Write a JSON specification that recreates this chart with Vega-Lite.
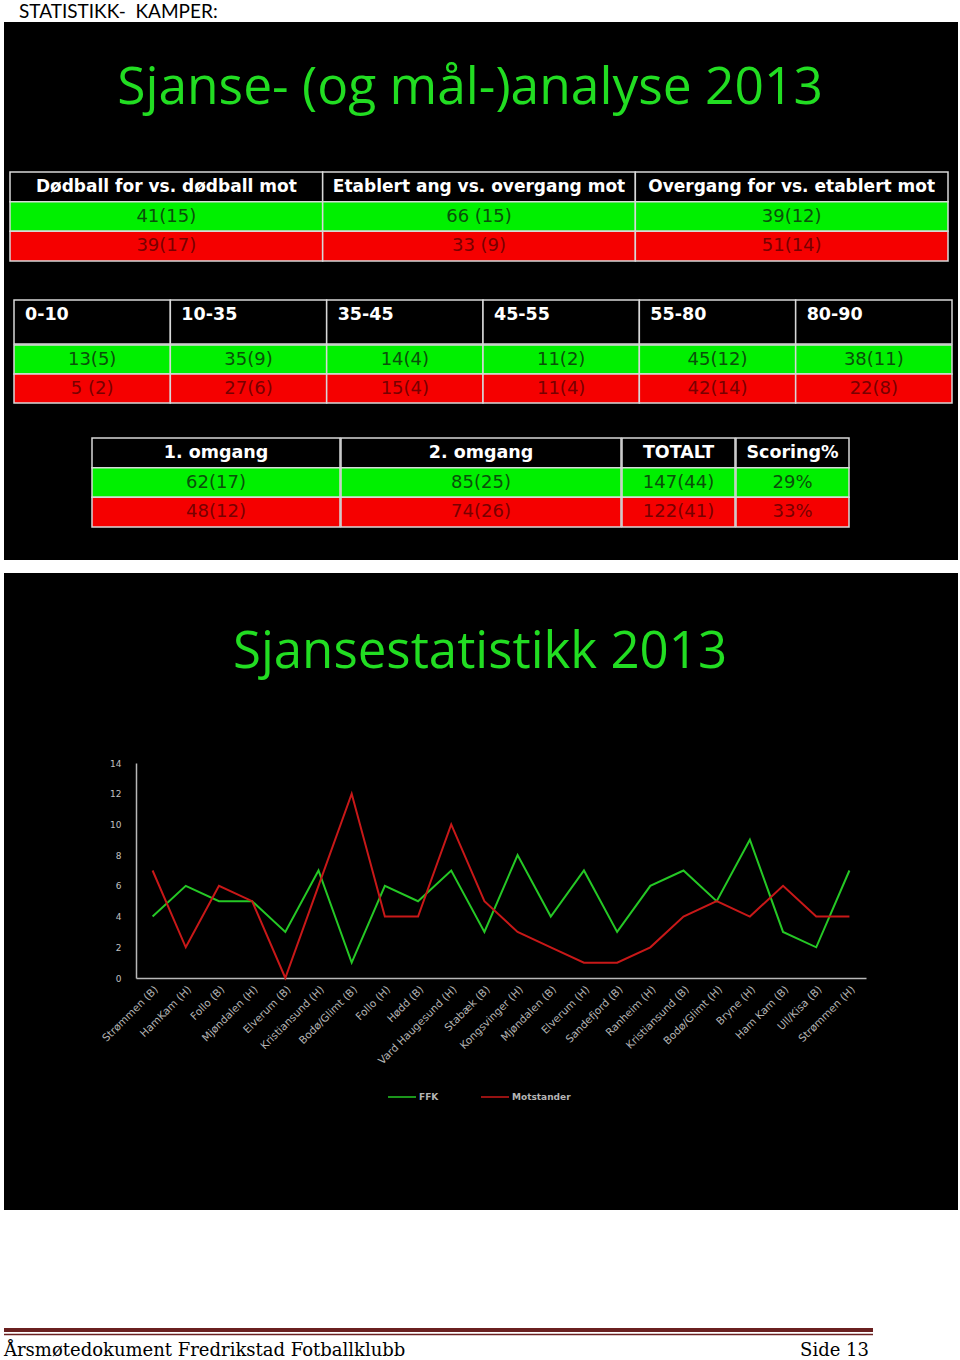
{
  "$schema": "https://vega.github.io/schema/vega-lite/v6.json",
  "background": "white",
  "padding": {"left": 2, "top": 3, "right": 0, "bottom": 0},
  "title": {"text": "STATISTIKK-\u00a0 KAMPER:", "anchor": "start", "frame": "group", "font": "Lato", "fontSize": 19, "fontWeight": "normal", "color": "#000000", "offset": 0, "dx": 15},
  "spacing": 118,
  "resolve": {"scale": {"x": "independent", "y": "independent", "color": "independent", "fill": "independent", "strokeWidth": "independent"}},
  "config": {"view": {"stroke": null}},
  "vconcat": [
    {
      "spacing": 13,
      "resolve": {"scale": {"x": "independent", "y": "independent", "color": "independent", "fill": "independent"}},
      "vconcat": [
        {
          "width": 954,
          "height": 538,
          "view": {"fill": "#000000", "stroke": null},
          "title": {"text": "Sjanse- (og mål-)analyse 2013", "font": "Open Sans", "fontSize": 51.5, "fontWeight": "normal", "color": "#22dd22", "anchor": "middle", "baseline": "alphabetic", "offset": -133, "dx": -11},
          "resolve": {"scale": {"x": "independent", "y": "independent"}},
          "layer": [
            {
              "data": {"values": [
                {"kol": "a1", "rad": "h", "tekst": "Dødball for vs. dødball mot"},
                {"kol": "a2", "rad": "h", "tekst": "Etablert ang vs. overgang mot"},
                {"kol": "a3", "rad": "h", "tekst": "Overgang for vs. etablert mot"},
                {"kol": "a1", "rad": "g", "tekst": "41(15)"},
                {"kol": "a2", "rad": "g", "tekst": "66 (15)"},
                {"kol": "a3", "rad": "g", "tekst": "39(12)"},
                {"kol": "a1", "rad": "r", "tekst": "39(17)"},
                {"kol": "a2", "rad": "r", "tekst": "33 (9)"},
                {"kol": "a3", "rad": "r", "tekst": "51(14)"}
              ]},
              "encoding": {
                "x": {"field": "kol", "type": "nominal", "scale": {"type": "band", "domain": ["a1", "a2", "a3"], "range": [6, 944], "paddingInner": 0, "paddingOuter": 0}, "axis": null},
                "y": {"field": "rad", "type": "nominal", "scale": {"type": "band", "domain": ["h", "g", "r"], "range": [150, 239], "paddingInner": 0, "paddingOuter": 0}, "axis": null}
              },
              "layer": [
                {"mark": {"type": "rect", "stroke": "#d8d8d8", "strokeWidth": 1.5}, "encoding": {"fill": {"field": "rad", "type": "nominal", "scale": {"domain": ["h", "g", "r"], "range": ["#000000", "#00f000", "#f50000"]}, "legend": null}}},
                {"transform": [{"filter": "datum.rad == 'h'"}], "mark": {"type": "text", "font": "DejaVu Sans", "fontWeight": "bold", "fontSize": 17, "color": "#ffffff", "baseline": "middle"}, "encoding": {"text": {"field": "tekst"}}},
                {"transform": [{"filter": "datum.rad != 'h'"}], "mark": {"type": "text", "font": "DejaVu Sans", "fontSize": 18, "baseline": "middle"}, "encoding": {"text": {"field": "tekst"}, "color": {"field": "rad", "type": "nominal", "scale": {"domain": ["g", "r"], "range": ["#0a500a", "#780000"]}, "legend": null}}}
              ]
            },
            {
              "data": {"values": [
                {"kol": "b1", "rad": "h", "tekst": "0-10"},
                {"kol": "b2", "rad": "h", "tekst": "10-35"},
                {"kol": "b3", "rad": "h", "tekst": "35-45"},
                {"kol": "b4", "rad": "h", "tekst": "45-55"},
                {"kol": "b5", "rad": "h", "tekst": "55-80"},
                {"kol": "b6", "rad": "h", "tekst": "80-90"},
                {"kol": "b1", "rad": "g", "tekst": "13(5)"},
                {"kol": "b2", "rad": "g", "tekst": "35(9)"},
                {"kol": "b3", "rad": "g", "tekst": "14(4)"},
                {"kol": "b4", "rad": "g", "tekst": "11(2)"},
                {"kol": "b5", "rad": "g", "tekst": "45(12)"},
                {"kol": "b6", "rad": "g", "tekst": "38(11)"},
                {"kol": "b1", "rad": "r", "tekst": "5 (2)"},
                {"kol": "b2", "rad": "r", "tekst": "27(6)"},
                {"kol": "b3", "rad": "r", "tekst": "15(4)"},
                {"kol": "b4", "rad": "r", "tekst": "11(4)"},
                {"kol": "b5", "rad": "r", "tekst": "42(14)"},
                {"kol": "b6", "rad": "r", "tekst": "22(8)"}
              ]},
              "encoding": {
                "x": {"field": "kol", "type": "nominal", "scale": {"type": "band", "domain": ["b1", "b2", "b3", "b4", "b5", "b6"], "range": [10, 948], "paddingInner": 0, "paddingOuter": 0}, "axis": null}
              },
              "resolve": {"scale": {"y": "independent"}},
              "layer": [
                {"transform": [{"filter": "datum.rad == 'h'"}], "mark": {"type": "rect", "stroke": "#d8d8d8", "strokeWidth": 1.5}, "encoding": {"y": {"field": "rad", "type": "nominal", "scale": {"type": "band", "domain": ["h"], "range": [278, 322], "paddingInner": 0, "paddingOuter": 0}, "axis": null}, "fill": {"field": "rad", "type": "nominal", "scale": {"domain": ["h", "g", "r"], "range": ["#000000", "#00f000", "#f50000"]}, "legend": null}}},
                {"transform": [{"filter": "datum.rad != 'h'"}], "mark": {"type": "rect", "stroke": "#d8d8d8", "strokeWidth": 1.5}, "encoding": {"y": {"field": "rad", "type": "nominal", "scale": {"type": "band", "domain": ["g", "r"], "range": [323, 381], "paddingInner": 0, "paddingOuter": 0}, "axis": null}, "fill": {"field": "rad", "type": "nominal", "scale": {"domain": ["h", "g", "r"], "range": ["#000000", "#00f000", "#f50000"]}, "legend": null}}},
                {"transform": [{"filter": "datum.rad == 'h'"}], "mark": {"type": "text", "font": "DejaVu Sans", "fontWeight": "bold", "fontSize": 17.5, "color": "#ffffff", "align": "left", "baseline": "top", "dx": 11, "dy": 6}, "encoding": {"x": {"field": "kol", "type": "nominal", "bandPosition": 0, "scale": {"type": "band", "domain": ["b1", "b2", "b3", "b4", "b5", "b6"], "range": [10, 948], "paddingInner": 0, "paddingOuter": 0}, "axis": null}, "y": {"field": "rad", "type": "nominal", "bandPosition": 0, "scale": {"type": "band", "domain": ["h"], "range": [278, 322], "paddingInner": 0, "paddingOuter": 0}, "axis": null}, "text": {"field": "tekst"}}},
                {"transform": [{"filter": "datum.rad != 'h'"}], "mark": {"type": "text", "font": "DejaVu Sans", "fontSize": 18, "baseline": "middle"}, "encoding": {"y": {"field": "rad", "type": "nominal", "scale": {"type": "band", "domain": ["g", "r"], "range": [323, 381], "paddingInner": 0, "paddingOuter": 0}, "axis": null}, "text": {"field": "tekst"}, "color": {"field": "rad", "type": "nominal", "scale": {"domain": ["g", "r"], "range": ["#0a500a", "#780000"]}, "legend": null}}}
              ]
            },
            {
              "data": {"values": [
                {"kol": "c1", "rad": "h", "tekst": "1. omgang"},
                {"kol": "c1", "rad": "g", "tekst": "62(17)"},
                {"kol": "c1", "rad": "r", "tekst": "48(12)"}
              ]},
              "encoding": {
                "x": {"field": "kol", "type": "nominal", "scale": {"type": "band", "domain": ["c1"], "range": [88, 336], "paddingInner": 0, "paddingOuter": 0}, "axis": null},
                "y": {"field": "rad", "type": "nominal", "scale": {"type": "band", "domain": ["h", "g", "r"], "range": [416, 505], "paddingInner": 0, "paddingOuter": 0}, "axis": null}
              },
              "layer": [
                {"mark": {"type": "rect", "stroke": "#d8d8d8", "strokeWidth": 1.5}, "encoding": {"fill": {"field": "rad", "type": "nominal", "scale": {"domain": ["h", "g", "r"], "range": ["#000000", "#00f000", "#f50000"]}, "legend": null}}},
                {"transform": [{"filter": "datum.rad == 'h'"}], "mark": {"type": "text", "font": "DejaVu Sans", "fontWeight": "bold", "fontSize": 17.5, "color": "#ffffff", "baseline": "middle"}, "encoding": {"text": {"field": "tekst"}}},
                {"transform": [{"filter": "datum.rad != 'h'"}], "mark": {"type": "text", "font": "DejaVu Sans", "fontSize": 18, "baseline": "middle"}, "encoding": {"text": {"field": "tekst"}, "color": {"field": "rad", "type": "nominal", "scale": {"domain": ["g", "r"], "range": ["#0a500a", "#780000"]}, "legend": null}}}
              ]
            },
            {
              "data": {"values": [
                {"kol": "c2", "rad": "h", "tekst": "2. omgang"},
                {"kol": "c2", "rad": "g", "tekst": "85(25)"},
                {"kol": "c2", "rad": "r", "tekst": "74(26)"}
              ]},
              "encoding": {
                "x": {"field": "kol", "type": "nominal", "scale": {"type": "band", "domain": ["c2"], "range": [337, 617], "paddingInner": 0, "paddingOuter": 0}, "axis": null},
                "y": {"field": "rad", "type": "nominal", "scale": {"type": "band", "domain": ["h", "g", "r"], "range": [416, 505], "paddingInner": 0, "paddingOuter": 0}, "axis": null}
              },
              "layer": [
                {"mark": {"type": "rect", "stroke": "#d8d8d8", "strokeWidth": 1.5}, "encoding": {"fill": {"field": "rad", "type": "nominal", "scale": {"domain": ["h", "g", "r"], "range": ["#000000", "#00f000", "#f50000"]}, "legend": null}}},
                {"transform": [{"filter": "datum.rad == 'h'"}], "mark": {"type": "text", "font": "DejaVu Sans", "fontWeight": "bold", "fontSize": 17.5, "color": "#ffffff", "baseline": "middle"}, "encoding": {"text": {"field": "tekst"}}},
                {"transform": [{"filter": "datum.rad != 'h'"}], "mark": {"type": "text", "font": "DejaVu Sans", "fontSize": 18, "baseline": "middle"}, "encoding": {"text": {"field": "tekst"}, "color": {"field": "rad", "type": "nominal", "scale": {"domain": ["g", "r"], "range": ["#0a500a", "#780000"]}, "legend": null}}}
              ]
            },
            {
              "data": {"values": [
                {"kol": "c3", "rad": "h", "tekst": "TOTALT"},
                {"kol": "c3", "rad": "g", "tekst": "147(44)"},
                {"kol": "c3", "rad": "r", "tekst": "122(41)"}
              ]},
              "encoding": {
                "x": {"field": "kol", "type": "nominal", "scale": {"type": "band", "domain": ["c3"], "range": [618, 731], "paddingInner": 0, "paddingOuter": 0}, "axis": null},
                "y": {"field": "rad", "type": "nominal", "scale": {"type": "band", "domain": ["h", "g", "r"], "range": [416, 505], "paddingInner": 0, "paddingOuter": 0}, "axis": null}
              },
              "layer": [
                {"mark": {"type": "rect", "stroke": "#d8d8d8", "strokeWidth": 1.5}, "encoding": {"fill": {"field": "rad", "type": "nominal", "scale": {"domain": ["h", "g", "r"], "range": ["#000000", "#00f000", "#f50000"]}, "legend": null}}},
                {"transform": [{"filter": "datum.rad == 'h'"}], "mark": {"type": "text", "font": "DejaVu Sans", "fontWeight": "bold", "fontSize": 17.5, "color": "#ffffff", "baseline": "middle"}, "encoding": {"text": {"field": "tekst"}}},
                {"transform": [{"filter": "datum.rad != 'h'"}], "mark": {"type": "text", "font": "DejaVu Sans", "fontSize": 18, "baseline": "middle"}, "encoding": {"text": {"field": "tekst"}, "color": {"field": "rad", "type": "nominal", "scale": {"domain": ["g", "r"], "range": ["#0a500a", "#780000"]}, "legend": null}}}
              ]
            },
            {
              "data": {"values": [
                {"kol": "c4", "rad": "h", "tekst": "Scoring%"},
                {"kol": "c4", "rad": "g", "tekst": "29%"},
                {"kol": "c4", "rad": "r", "tekst": "33%"}
              ]},
              "encoding": {
                "x": {"field": "kol", "type": "nominal", "scale": {"type": "band", "domain": ["c4"], "range": [732, 845], "paddingInner": 0, "paddingOuter": 0}, "axis": null},
                "y": {"field": "rad", "type": "nominal", "scale": {"type": "band", "domain": ["h", "g", "r"], "range": [416, 505], "paddingInner": 0, "paddingOuter": 0}, "axis": null}
              },
              "layer": [
                {"mark": {"type": "rect", "stroke": "#d8d8d8", "strokeWidth": 1.5}, "encoding": {"fill": {"field": "rad", "type": "nominal", "scale": {"domain": ["h", "g", "r"], "range": ["#000000", "#00f000", "#f50000"]}, "legend": null}}},
                {"transform": [{"filter": "datum.rad == 'h'"}], "mark": {"type": "text", "font": "DejaVu Sans", "fontWeight": "bold", "fontSize": 17.5, "color": "#ffffff", "baseline": "middle"}, "encoding": {"text": {"field": "tekst"}}},
                {"transform": [{"filter": "datum.rad != 'h'"}], "mark": {"type": "text", "font": "DejaVu Sans", "fontSize": 18, "baseline": "middle"}, "encoding": {"text": {"field": "tekst"}, "color": {"field": "rad", "type": "nominal", "scale": {"domain": ["g", "r"], "range": ["#0a500a", "#780000"]}, "legend": null}}}
              ]
            }
          ]
        },
        {
          "width": 954,
          "height": 637,
          "view": {"fill": "#000000", "stroke": null},
          "title": {"text": "Sjansestatistikk 2013", "font": "Open Sans", "fontSize": 51, "fontWeight": "normal", "color": "#22dd22", "anchor": "middle", "baseline": "alphabetic", "offset": -146, "dx": -1},
          "data": {"values": [
            {"kamp": "Strømmen (B)", "serie": "FFK", "sjanser": 4},
            {"kamp": "HamKam (H)", "serie": "FFK", "sjanser": 6},
            {"kamp": "Follo (B)", "serie": "FFK", "sjanser": 5},
            {"kamp": "Mjøndalen (H)", "serie": "FFK", "sjanser": 5},
            {"kamp": "Elverum (B)", "serie": "FFK", "sjanser": 3},
            {"kamp": "Kristiansund (H)", "serie": "FFK", "sjanser": 7},
            {"kamp": "Bodø/Glimt (B)", "serie": "FFK", "sjanser": 1},
            {"kamp": "Follo (H)", "serie": "FFK", "sjanser": 6},
            {"kamp": "Hødd (B)", "serie": "FFK", "sjanser": 5},
            {"kamp": "Vard Haugesund (H)", "serie": "FFK", "sjanser": 7},
            {"kamp": "Stabæk (B)", "serie": "FFK", "sjanser": 3},
            {"kamp": "Kongsvinger (H)", "serie": "FFK", "sjanser": 8},
            {"kamp": "Mjøndalen (B)", "serie": "FFK", "sjanser": 4},
            {"kamp": "Elverum (H)", "serie": "FFK", "sjanser": 7},
            {"kamp": "Sandefjord (B)", "serie": "FFK", "sjanser": 3},
            {"kamp": "Ranheim (H)", "serie": "FFK", "sjanser": 6},
            {"kamp": "Kristiansund (B)", "serie": "FFK", "sjanser": 7},
            {"kamp": "Bodø/Glimt (H)", "serie": "FFK", "sjanser": 5},
            {"kamp": "Bryne (H)", "serie": "FFK", "sjanser": 9},
            {"kamp": "Ham Kam (B)", "serie": "FFK", "sjanser": 3},
            {"kamp": "Ull/Kisa (B)", "serie": "FFK", "sjanser": 2},
            {"kamp": "Strømmen (H)", "serie": "FFK", "sjanser": 7},
            {"kamp": "Strømmen (B)", "serie": "Motstander", "sjanser": 7},
            {"kamp": "HamKam (H)", "serie": "Motstander", "sjanser": 2},
            {"kamp": "Follo (B)", "serie": "Motstander", "sjanser": 6},
            {"kamp": "Mjøndalen (H)", "serie": "Motstander", "sjanser": 5},
            {"kamp": "Elverum (B)", "serie": "Motstander", "sjanser": 0},
            {"kamp": "Kristiansund (H)", "serie": "Motstander", "sjanser": 6},
            {"kamp": "Bodø/Glimt (B)", "serie": "Motstander", "sjanser": 12},
            {"kamp": "Follo (H)", "serie": "Motstander", "sjanser": 4},
            {"kamp": "Hødd (B)", "serie": "Motstander", "sjanser": 4},
            {"kamp": "Vard Haugesund (H)", "serie": "Motstander", "sjanser": 10},
            {"kamp": "Stabæk (B)", "serie": "Motstander", "sjanser": 5},
            {"kamp": "Kongsvinger (H)", "serie": "Motstander", "sjanser": 3},
            {"kamp": "Mjøndalen (B)", "serie": "Motstander", "sjanser": 2},
            {"kamp": "Elverum (H)", "serie": "Motstander", "sjanser": 1},
            {"kamp": "Sandefjord (B)", "serie": "Motstander", "sjanser": 1},
            {"kamp": "Ranheim (H)", "serie": "Motstander", "sjanser": 2},
            {"kamp": "Kristiansund (B)", "serie": "Motstander", "sjanser": 4},
            {"kamp": "Bodø/Glimt (H)", "serie": "Motstander", "sjanser": 5},
            {"kamp": "Bryne (H)", "serie": "Motstander", "sjanser": 4},
            {"kamp": "Ham Kam (B)", "serie": "Motstander", "sjanser": 6},
            {"kamp": "Ull/Kisa (B)", "serie": "Motstander", "sjanser": 4},
            {"kamp": "Strømmen (H)", "serie": "Motstander", "sjanser": 4}
          ]},
          "mark": {"type": "line", "strokeWidth": 2},
          "encoding": {
            "x": {"field": "kamp", "type": "nominal", "sort": null, "scale": {"type": "point", "range": [132, 862], "padding": 0.5},
              "axis": {"title": null, "offset": -232, "labelAngle": -45, "ticks": false, "domainColor": "#b8b8b8", "domainWidth": 1.5, "labelColor": "#b4b4b4", "labelFont": "DejaVu Sans", "labelFontSize": 10.5, "labelPadding": 6, "grid": false}},
            "y": {"field": "sjanser", "type": "quantitative", "scale": {"domain": [0, 14], "range": [405, 190], "nice": false},
              "axis": {"title": null, "offset": -132, "values": [0, 2, 4, 6, 8, 10, 12, 14], "ticks": false, "grid": false, "domainColor": "#b8b8b8", "domainWidth": 1.5, "labelColor": "#c0c0c0", "labelFont": "DejaVu Sans", "labelFontSize": 9, "labelPadding": 15}},
            "color": {"field": "serie", "type": "nominal", "scale": {"domain": ["FFK", "Motstander"], "range": ["#25c825", "#c81818"]},
              "legend": {"title": null, "orient": "none", "legendX": 383, "legendY": 509, "direction": "horizontal", "symbolType": "stroke", "symbolSize": 784, "symbolStrokeWidth": 1.5, "labelColor": "#b4b4b4", "labelFont": "DejaVu Sans", "labelFontWeight": "bold", "labelFontSize": 9, "labelOffset": 2, "columnPadding": 39, "padding": 0}}
          }
        }
      ]
    },
    {
      "width": 869,
      "height": 32,
      "resolve": {"scale": {"x": "independent", "y": "independent"}},
      "layer": [
        {
          "data": {"values": [{"linje": "tykk"}, {"linje": "tynn"}]},
          "mark": {"type": "rule", "color": "#6a2020"},
          "encoding": {
            "y": {"field": "linje", "type": "nominal", "scale": {"type": "point", "domain": ["tykk", "tynn"], "range": [2, 6.5], "padding": 0}, "axis": null},
            "strokeWidth": {"field": "linje", "type": "ordinal", "scale": {"domain": ["tykk", "tynn"], "range": [4, 1.5]}, "legend": null}
          }
        },
        {
          "data": {"values": [{"side": "venstre", "tekst": "Årsmøtedokument Fredrikstad Fotballklubb"}]},
          "mark": {"type": "text", "align": "left", "baseline": "alphabetic", "font": "DejaVu Serif", "fontSize": 18, "color": "#000000"},
          "encoding": {
            "x": {"field": "side", "type": "nominal", "scale": {"type": "point", "domain": ["venstre", "høyre"], "range": [0, 865], "padding": 0}, "axis": null},
            "y": {"field": "side", "type": "nominal", "scale": {"type": "point", "domain": ["venstre", "høyre"], "range": [28, 28], "padding": 0}, "axis": null},
            "text": {"field": "tekst"}
          }
        },
        {
          "data": {"values": [{"side": "høyre", "tekst": "Side 13"}]},
          "mark": {"type": "text", "align": "right", "baseline": "alphabetic", "font": "DejaVu Serif", "fontSize": 18, "color": "#000000"},
          "encoding": {
            "x": {"field": "side", "type": "nominal", "scale": {"type": "point", "domain": ["venstre", "høyre"], "range": [0, 865], "padding": 0}, "axis": null},
            "y": {"field": "side", "type": "nominal", "scale": {"type": "point", "domain": ["venstre", "høyre"], "range": [28, 28], "padding": 0}, "axis": null},
            "text": {"field": "tekst"}
          }
        }
      ]
    }
  ]
}
